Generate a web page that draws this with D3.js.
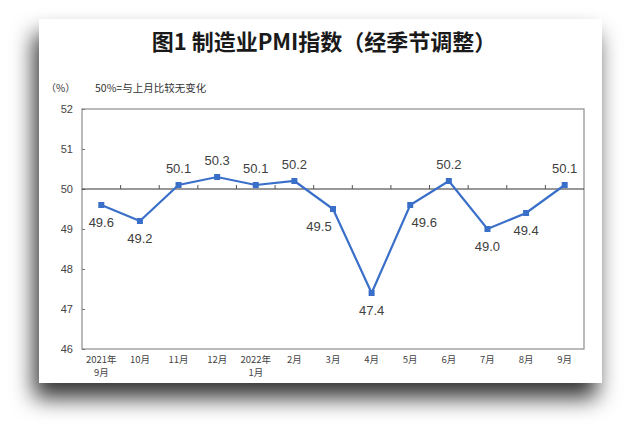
<!DOCTYPE html>
<html>
<head>
<meta charset="utf-8">
<script src="https://cdn.jsdelivr.net/npm/d3@7"></script>
<style>
  body { margin: 0; background: #ffffff; }
  svg { display: block; }
</style>
</head>
<body>
<div id="chart"></div>
<script>
// data
var months = ["2021年\n9月", "10月", "11月", "12月", "2022年\n1月", "2月", "3月", "4月", "5月", "6月", "7月", "8月", "9月"];
var pmi = [49.6, 49.2, 50.1, 50.3, 50.1, 50.2, 49.5, 47.4, 49.6, 50.2, 49.0, 49.4, 50.1];
var yTicks = [46, 47, 48, 49, 50, 51, 52];
// label placement: "a" above, "b" below, "bl" below-left, "br" below-right
var labelPos = ["b", "b", "a", "a", "a", "a", "bl", "b", "br", "a", "b", "b", "a"];

var W = 640, H = 443;
var svg = d3.select("#chart").append("svg")
    .attr("width", W)
    .attr("height", H);

// shadow for the card
var defs = svg.append("defs");
var f = defs.append("filter").attr("id", "shadow")
    .attr("x", "-20%").attr("y", "-20%").attr("width", "140%").attr("height", "150%");
f.append("feDropShadow")
    .attr("dx", -5).attr("dy", 15)
    .attr("stdDeviation", 11)
    .attr("flood-color", "#000")
    .attr("flood-opacity", 0.8);

svg.append("rect")
    .attr("x", 39).attr("y", 19)
    .attr("width", 563).attr("height", 364)
    .attr("fill", "#fff")
    .attr("filter", "url(#shadow)");

var margin = {top: 109, left: 82, right: 584, bottom: 349};

var x = d3.scaleBand()
    .domain(months)
    .range([margin.left, margin.right]);

var y = d3.scaleLinear()
    .domain([46, 52])
    .range([margin.bottom, margin.top]);

// title
svg.append("text")
    .attr("x", 324).attr("y", 50)
    .attr("text-anchor", "middle")
    .style("font-family", "'Noto Sans CJK SC', sans-serif")
    .style("font-size", "22px")
    .style("font-weight", "bold")
    .attr("fill", "#1a1a1a")
    .text("图1 制造业PMI指数（经季节调整）");

svg.append("text")
    .attr("x", 46).attr("y", 92)
    .style("font-family", "'Noto Sans CJK SC', sans-serif")
    .style("font-size", "10px")
    .attr("fill", "#333")
    .text("（%）");
svg.append("text")
    .attr("x", 95).attr("y", 92)
    .style("font-family", "'Noto Sans CJK SC', sans-serif")
    .style("font-size", "10.5px")
    .attr("fill", "#333")
    .text("50%=与上月比较无变化");

// frame
svg.append("rect")
    .attr("x", margin.left).attr("y", margin.top)
    .attr("width", margin.right - margin.left)
    .attr("height", margin.bottom - margin.top)
    .attr("fill", "none")
    .attr("stroke", "#8c8c8c")
    .attr("stroke-width", 1.2);

// y axis, ticks pointing inward
var yAxis = svg.append("g")
    .attr("transform", "translate(" + margin.left + ",0)")
    .call(d3.axisRight(y).tickValues(yTicks).tickSize(3).tickFormat(d3.format("d")));
yAxis.select(".domain").remove();
yAxis.selectAll(".tick line").attr("stroke", "#777");
yAxis.selectAll(".tick text")
    .attr("x", -9)
    .attr("text-anchor", "end")
    .style("font-family", "'Liberation Sans', Arial, sans-serif")
    .style("font-size", "11px")
    .attr("fill", "#444");

// x axis sitting at 50, ticks between categories pointing up
var xAxisLine = svg.append("g")
    .attr("transform", "translate(0," + y(50) + ")");
xAxisLine.append("line")
    .attr("x1", margin.left).attr("x2", margin.right)
    .attr("stroke", "#333").attr("stroke-width", 1.2);
xAxisLine.selectAll(".tk")
    .data(months.slice(1))
    .enter().append("line")
    .attr("x1", function(d) { return x(d); })
    .attr("x2", function(d) { return x(d); })
    .attr("y1", 0).attr("y2", -4)
    .attr("stroke", "#555");

// category labels under the frame (two-line ones split into separate texts)
var xg = svg.append("g");
months.forEach(function(d) {
    var parts = d.split("\n");
    parts.forEach(function(p, i) {
        xg.append("text")
            .attr("x", x(d) + x.bandwidth() / 2)
            .attr("y", 363 + i * 13)
            .attr("text-anchor", "middle")
            .style("font-family", "'Noto Sans CJK SC', sans-serif")
            .style("font-size", "9.5px")
            .attr("fill", "#444")
            .text(p);
    });
});

// line
var line = d3.line()
    .x(function(d, i) { return x(months[i]) + x.bandwidth() / 2; })
    .y(function(d) { return y(d); });

svg.append("path")
    .datum(pmi)
    .attr("d", line)
    .attr("fill", "none")
    .attr("stroke", "#3a6fc9")
    .attr("stroke-width", 2.2);

svg.selectAll(".pt")
    .data(pmi)
    .enter().append("rect")
    .attr("class", "pt")
    .attr("x", function(d, i) { return x(months[i]) + x.bandwidth() / 2 - 3; })
    .attr("y", function(d) { return y(d) - 3; })
    .attr("width", 6).attr("height", 6)
    .attr("fill", "#3a6fc9");

// value labels
svg.selectAll(".lbl")
    .data(pmi)
    .enter().append("text")
    .attr("x", function(d, i) {
        var cx = x(months[i]) + x.bandwidth() / 2;
        if (labelPos[i] == "bl") return cx - 14;
        if (labelPos[i] == "br") return cx + 14;
        return cx;
    })
    .attr("y", function(d, i) {
        return labelPos[i] == "a" ? y(d) - 12 : y(d) + 22;
    })
    .attr("text-anchor", "middle")
    .style("font-family", "'Liberation Sans', Arial, sans-serif")
    .style("font-size", "13px")
    .attr("fill", "#404040")
    .text(function(d) { return d.toFixed(1); });
</script>
</body>
</html>
